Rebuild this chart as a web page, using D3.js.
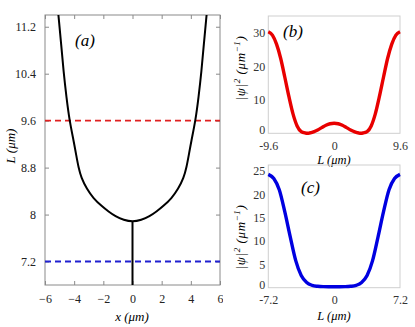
<!DOCTYPE html>
<html>
<head>
<meta charset="utf-8">
<script src="https://cdn.jsdelivr.net/npm/d3@7"></script>
<style>
  body { margin: 0; background: #fff; }
  svg text { font-family: 'Liberation Serif', 'DejaVu Serif', serif; }
</style>
</head>
<body>
<div id="chart"></div>
<script>
// panel (a): L versus x
var curveX = [-5.08, -4.89, -4.73, -4.53, -4.32, -4.03, -3.85, -3.70, -3.52, -3.12, -2.69, -2.10, -1.64, -1.18, -0.6, 0,
              0.6, 1.18, 1.64, 2.10, 2.69, 3.12, 3.52, 3.70, 3.85, 4.03, 4.32, 4.53, 4.73, 4.89, 5.08];
var curveL = [11.4, 10.9, 10.44, 10.0, 9.6, 9.25, 9.0, 8.8, 8.63, 8.43, 8.28, 8.14, 8.05, 7.97, 7.905, 7.875,
              7.905, 7.97, 8.05, 8.14, 8.28, 8.43, 8.63, 8.8, 9.0, 9.25, 9.6, 10.0, 10.44, 10.9, 11.4];
var stemX = [0, 0];
var stemL = [7.875, 6.8];
var redLevel = 9.6, blueLevel = 7.2;
var aXTicks = [-6, -4, -2, 0, 2, 4, 6];
var aYTicks = [7.2, 8, 8.8, 9.6, 10.4, 11.2];

// panel (b): |psi|^2 at L = 9.6
var bL = [-9.6, -9.0, -8.4, -7.8, -7.2, -6.6, -6.0, -5.4, -4.8, -4.2, -3.9, -3.6, -3.0, -2.4, -1.8, -1.2, -0.6, 0,
          0.6, 1.2, 1.8, 2.4, 3.0, 3.6, 3.9, 4.2, 4.8, 5.4, 6.0, 6.6, 7.2, 7.8, 8.4, 9.0, 9.6];
var bPsi = [30.3, 29.3, 26.6, 22.4, 16.8, 11.0, 5.8, 2.2, 0.5, 0.08, 0, 0.08, 0.45, 1.0, 1.7, 2.4, 2.85, 3.0,
            2.85, 2.4, 1.7, 1.0, 0.45, 0.08, 0, 0.08, 0.5, 2.2, 5.8, 11.0, 16.8, 22.4, 26.6, 29.3, 30.3];
var bXTicks = [-9.6, 0, 9.6];
var bYTicks = [0, 10, 20, 30];

// panel (c): |psi|^2 at L = 7.2
var cL = [-7.2, -6.6, -6.0, -5.4, -4.8, -4.2, -3.6, -3.0, -2.4, -1.8, -1.2, -0.6, 0,
          0.6, 1.2, 1.8, 2.4, 3.0, 3.6, 4.2, 4.8, 5.4, 6.0, 6.6, 7.2];
var cPsi = [24.3, 23.4, 21.0, 16.3, 10.9, 5.8, 2.6, 1.1, 0.5, 0.3, 0.22, 0.2, 0.2,
            0.2, 0.22, 0.3, 0.5, 1.1, 2.6, 5.8, 10.9, 16.3, 21.0, 23.4, 24.3];
var cXTicks = [-7.2, 0, 7.2];
var cYTicks = [0, 5, 10, 15, 20, 25];

var W = 415, H = 327;
var serif = "'Liberation Serif', 'DejaVu Serif', serif";
var svg = d3.select("#chart").append("svg")
    .attr("width", W)
    .attr("height", H);

// ---------- panel (a)
var xa = d3.scaleLinear().domain([-6, 6]).range([45, 220]);
var ya = d3.scaleLinear().domain([6.8, 11.4]).range([285, 15]);

var ga = svg.append("g");
ga.append("rect")
    .attr("x", 45).attr("y", 15)
    .attr("width", 175).attr("height", 270)
    .attr("fill", "none").attr("stroke", "#8a8a8a").attr("stroke-width", 1);

// inward ticks on all four sides
ga.append("g").attr("transform", "translate(0,285)")
    .call(d3.axisBottom(xa).tickValues(aXTicks).tickSize(-4).tickFormat(function(d) { return d < 0 ? "\u2212" + (-d) : String(d); }).tickPadding(9))
    .call(function(g) { g.select(".domain").remove(); });
ga.append("g").attr("transform", "translate(0,15)")
    .call(d3.axisTop(xa).tickValues(aXTicks).tickSize(-4).tickFormat(""))
    .call(function(g) { g.select(".domain").remove(); });
ga.append("g").attr("transform", "translate(45,0)")
    .call(d3.axisLeft(ya).tickValues(aYTicks).tickSize(-4).tickPadding(9).tickFormat(function(d) { return String(d); }))
    .call(function(g) { g.select(".domain").remove(); });
ga.append("g").attr("transform", "translate(220,0)")
    .call(d3.axisRight(ya).tickValues(aYTicks).tickSize(-4).tickFormat(""))
    .call(function(g) { g.select(".domain").remove(); });
ga.selectAll(".tick line").attr("stroke", "#8a8a8a");
ga.selectAll(".tick text").attr("font-size", 12).attr("fill", "#222")
    .style("font-family", serif);

ga.append("line")
    .attr("x1", xa(-6)).attr("x2", xa(6))
    .attr("y1", ya(redLevel)).attr("y2", ya(redLevel))
    .attr("stroke", "#e02020").attr("stroke-width", 1.8).attr("stroke-dasharray", "6,4");
ga.append("line")
    .attr("x1", xa(-6)).attr("x2", xa(6))
    .attr("y1", ya(blueLevel)).attr("y2", ya(blueLevel))
    .attr("stroke", "#2020d0").attr("stroke-width", 1.8).attr("stroke-dasharray", "6,4");

var lineA = d3.line()
    .x(function(d) { return xa(d[0]); })
    .y(function(d) { return ya(d[1]); })
    .curve(d3.curveBasis);
ga.append("path")
    .datum(d3.zip(curveX, curveL))
    .attr("d", lineA)
    .attr("fill", "none").attr("stroke", "#000").attr("stroke-width", 2);
ga.append("path")
    .datum(d3.zip(stemX, stemL))
    .attr("d", d3.line().x(function(d) { return xa(d[0]); }).y(function(d) { return ya(d[1]); }))
    .attr("fill", "none").attr("stroke", "#000").attr("stroke-width", 2);

ga.append("text").attr("x", 75).attr("y", 46)
    .attr("font-size", 17).attr("font-style", "italic").text("(a)");
ga.append("text").attr("x", 132).attr("y", 321).attr("text-anchor", "middle")
    .attr("font-size", 13).attr("font-style", "italic").text("x (\u03bcm)");
ga.append("text").attr("transform", "translate(15,146) rotate(-90)").attr("text-anchor", "middle")
    .attr("font-size", 13).attr("font-style", "italic").text("L (\u03bcm)");

// ---------- panels (b) and (c)
svg.append("rect").attr("x", 223).attr("y", 0).attr("width", W - 223).attr("height", H).attr("fill", "#fff");

function drawPsi(opts) {
    var x = d3.scaleLinear().domain(opts.xDomain).range([268.3, 400]);
    var y = d3.scaleLinear().domain(opts.yDomain).range([opts.bottom, opts.top]);
    var g = svg.append("g");
    g.append("rect")
        .attr("x", 268.3).attr("y", opts.top)
        .attr("width", 400 - 268.3).attr("height", opts.bottom - opts.top)
        .attr("fill", "none").attr("stroke", "#cfcfcf").attr("stroke-width", 1);
    g.append("g").attr("transform", "translate(0," + opts.bottom + ")")
        .call(d3.axisBottom(x).tickValues(opts.xTicks).tickSize(0).tickPadding(8).tickFormat(function(d) { return String(d); }))
        .call(function(s) { s.select(".domain").remove(); });
    var yAxis = g.append("g").attr("transform", "translate(268.3,0)")
        .call(d3.axisLeft(y).tickValues(opts.yTicks).tickSize(0).tickPadding(3).tickFormat(function(d) { return String(d); }))
        .call(function(s) { s.select(".domain").remove(); });
    // lift the "0" a touch so it clears the first x tick label
    yAxis.selectAll(".tick text").filter(function(d) { return d === 0; }).attr("dy", "0.05em");
    g.selectAll(".tick text").attr("font-size", 12).attr("fill", "#333")
        .style("font-family", serif);

    g.append("path")
        .datum(d3.zip(opts.xs, opts.ys))
        .attr("d", d3.line()
            .x(function(d) { return x(d[0]); })
            .y(function(d) { return y(d[1]); })
            .curve(d3.curveMonotoneX))
        .attr("fill", "none").attr("stroke", opts.color).attr("stroke-width", 3.4);

    g.append("text").attr("x", opts.tagX).attr("y", opts.tagY)
        .attr("font-size", 17).attr("font-style", "italic").text(opts.tag);
    g.append("text").attr("x", 334).attr("y", opts.xLabelY).attr("text-anchor", "middle")
        .attr("font-size", 12.5).attr("font-style", "italic").text("L (\u03bcm)");
    var yl = g.append("text").attr("transform", "translate(245," + opts.yLabelY + ") rotate(-90)")
        .attr("text-anchor", "middle").attr("font-size", 13).attr("font-style", "italic")
        .attr("letter-spacing", 0.6);
    yl.append("tspan").text("|\u03c8|");
    yl.append("tspan").attr("font-size", 9).attr("dy", -5).text("2");
    yl.append("tspan").attr("dy", 5).text(" (\u03bcm");
    yl.append("tspan").attr("font-size", 9).attr("dy", -5).text("\u22121");
    yl.append("tspan").attr("dy", 5).text(")");
}

drawPsi({
    xDomain: [-9.6, 9.6], yDomain: [0, 35], top: 16, bottom: 133.3,
    xTicks: bXTicks, yTicks: bYTicks, xs: bL, ys: bPsi, color: "#e80000",
    tag: "(b)", tagX: 283, tagY: 37, xLabelY: 164, yLabelY: 68
});
drawPsi({
    xDomain: [-7.2, 7.2], yDomain: [0, 26.3], top: 165, bottom: 287.7,
    xTicks: cXTicks, yTicks: cYTicks, xs: cL, ys: cPsi, color: "#0000e0",
    tag: "(c)", tagX: 301, tagY: 193, xLabelY: 320, yLabelY: 237
});
</script>
</body>
</html>
